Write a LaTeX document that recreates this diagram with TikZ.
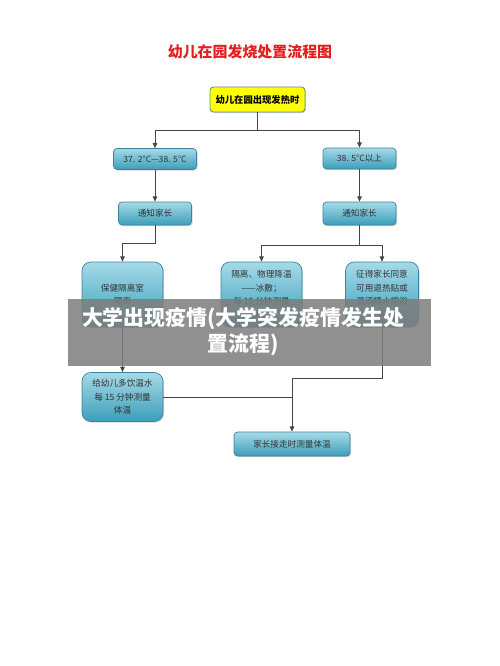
\documentclass[tikz,border=0pt]{standalone}
\usepackage{fontspec}
\newfontfamily\cjk{Noto Sans CJK SC}
\usetikzlibrary{arrows.meta,shadows}
\definecolor{titlered}{RGB}{228,30,30}
\definecolor{boxtop}{RGB}{165,218,232}
\definecolor{boxbottom}{RGB}{60,158,186}
\definecolor{boxline}{RGB}{58,132,158}
\definecolor{startyellow}{RGB}{255,255,10}
\definecolor{startline}{RGB}{95,150,110}
\definecolor{linkgray}{RGB}{70,70,70}
\definecolor{bannergray}{RGB}{125,125,125}
\tikzset{
  stepbox/.style={draw=boxline, line width=0.4pt, rounded corners=2pt,
    top color=boxtop, bottom color=boxbottom,
    drop shadow={shadow xshift=0.6pt, shadow yshift=-0.6pt, opacity=0.35},
    font=\cjk\fontsize{4.9}{7.6}\selectfont, text=black!80, align=center, inner sep=1pt},
  bigbox/.style={stepbox, rounded corners=5pt},
  startbox/.style={draw=startline, line width=0.5pt, rounded corners=2pt, fill=startyellow,
    drop shadow={shadow xshift=0.6pt, shadow yshift=-0.6pt, opacity=0.35},
    font=\cjk\bfseries\fontsize{5.3}{6.5}\selectfont, inner sep=1pt},
  link/.style={draw=linkgray, line width=0.5pt},
  arrow/.style={link, -{Triangle[length=3pt, width=2.6pt]}}
}
\begin{document}
\begin{tikzpicture}[x=0.02cm, y=-0.02cm]
    \useasboundingbox (0,0) rectangle (500,666);

    % Title
    \node[font=\cjk\bfseries\fontsize{8.5}{10}\selectfont, text=titlered] (title) at (250,52) {幼儿在园发烧处置流程图};

    % Boxes (pixel coordinates)
    \node[startbox, minimum width=1.9cm, minimum height=0.5cm] (start) at (257.5,99.5) {幼儿在园出现发热时};
    \node[stepbox, minimum width=1.66cm, minimum height=0.42cm] (lo) at (155,159) {37. 2°C—38. 5°C};
    \node[stepbox, minimum width=1.46cm, minimum height=0.42cm] (hi) at (359.5,158.5) {38. 5°C以上};
    \node[stepbox, minimum width=1.46cm, minimum height=0.46cm] (notifyL) at (155,213.5) {通知家长};
    \node[stepbox, minimum width=1.46cm, minimum height=0.46cm] (notifyR) at (359.5,213.5) {通知家长};
    \node[bigbox, minimum width=1.62cm, minimum height=1.3cm] (clinic) at (122.5,294.5) {保健隔离室\\隔离};
    \node[bigbox, minimum width=1.62cm, minimum height=1.3cm] (cool) at (261.5,294.5) {隔离、物理降温\\——冰敷；\\每 15 分钟测量\\体温};
    \node[bigbox, minimum width=1.46cm, minimum height=1.3cm] (patch) at (382,294.5) {征得家长同意\\可用退热贴或\\温酒精水擦浴\\等};
    \node[bigbox, minimum width=1.62cm, minimum height=0.98cm] (water) at (122.5,397) {给幼儿多饮温水\\每 15 分钟测量\\体温};
    \node[stepbox, minimum width=2.32cm, minimum height=0.48cm] (pickup) at (292,444) {家长接走时测量体温};

    % Connectors
    \coordinate (split) at (257.5,130);
    \draw[link] (start.south) -- (split);
    \draw[arrow] (split) -| (lo.north);
    \draw[arrow] (split) -| (hi.north);
    \foreach \a/\b in {lo/notifyL, hi/notifyR, clinic/water} {
        \draw[arrow] (\a.south) -- (\b.north);
    }
    \draw[arrow] (notifyL.south) -- ++(0,18) -| (clinic.north);
    \coordinate (fork) at (359.5,245);
    \draw[link] (notifyR.south) -- (fork);
    \draw[arrow] (fork) -| (cool.north);
    \draw[arrow] (fork) -| (patch.north);
    \draw[arrow] (patch.south) -- ++(0,51) -| (pickup.north);
    \draw[link] (water.east) -- (water.east -| pickup.north);

    % Banner over the chart
    \fill[bannergray, fill opacity=0.85] (68,299) rectangle (431,366);
    \node[font=\cjk\bfseries\fontsize{11.9}{14.7}\selectfont, text=white, align=center] (banner) at (243,332) {大学出现疫情(大学突发疫情发生处\\置流程)};
\end{tikzpicture}
\end{document}
